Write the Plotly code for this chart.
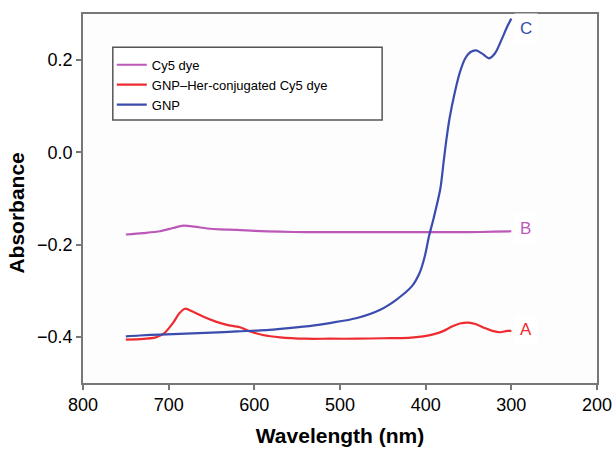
import plotly.graph_objects as go

# ---- data ----
cy5_wl = [750, 730, 710, 695, 683, 670, 655, 640, 620, 600, 570, 540, 500, 450, 400, 350, 320, 300]
cy5_abs = [-0.178, -0.175, -0.171, -0.164, -0.159, -0.161, -0.165, -0.167, -0.168, -0.170,
           -0.172, -0.173, -0.173, -0.173, -0.173, -0.173, -0.172, -0.171]

her_wl = [750, 734, 715, 705, 695, 688, 681, 672, 660, 645, 632, 617, 605, 590, 570, 540,
          512, 480, 450, 420, 403, 390, 379, 370, 360, 350, 342, 332, 322, 313, 305, 300]
her_abs = [-0.406, -0.405, -0.401, -0.392, -0.370, -0.350, -0.339, -0.345, -0.356, -0.367,
           -0.374, -0.379, -0.388, -0.396, -0.401, -0.404, -0.404, -0.404, -0.403, -0.402,
           -0.399, -0.394, -0.387, -0.378, -0.371, -0.369, -0.372, -0.380, -0.387, -0.390,
           -0.387, -0.387]

gnp_wl = [750, 734, 710, 680, 650, 620, 593, 560, 530, 512, 480, 453, 434, 416, 407, 401,
          396, 391, 383, 379, 376, 372, 366, 360, 354, 348, 341, 334, 326, 319, 311, 305, 300]
gnp_abs = [-0.399, -0.397, -0.395, -0.393, -0.391, -0.388, -0.386, -0.381, -0.375, -0.370,
           -0.359, -0.341, -0.319, -0.290, -0.261, -0.225, -0.181, -0.145, -0.080, -0.020,
           0.025, 0.075, 0.130, 0.174, 0.203, 0.217, 0.221, 0.214, 0.204, 0.215, 0.246,
           0.272, 0.290]

series_names = ["Cy5 dye", "GNP\u2013Her-conjugated Cy5 dye", "GNP"]
series_labels = ["B", "A", "C"]
label_yshift = [3, 1, -10]
colors = ["#bb58b8", "#ee2b30", "#3a4cae"]

x_ticks = [800, 700, 600, 500, 400, 300, 200]
y_ticks = [-0.4, -0.2, 0.0, 0.2]

FONT = "Arial, Liberation Sans, sans-serif"

fig = go.Figure()
series = [(cy5_wl, cy5_abs), (her_wl, her_abs), (gnp_wl, gnp_abs)]
for (wl, ab), name, col in zip(series, series_names, colors):
    fig.add_trace(go.Scatter(x=wl, y=ab, mode="lines", name=name,
                             line=dict(color=col, width=2.2, shape="spline", smoothing=0.8)))

# end labels A/B/C
for (wl, ab), lab, col, ys in zip(series, series_labels, colors, label_yshift):
    fig.add_annotation(x=wl[-1], y=ab[-1], text=lab, xref="x", yref="y",
                       xanchor="left", yanchor="middle", xshift=3, yshift=ys,
                       showarrow=False, bgcolor="white", borderpad=5,
                       font=dict(family=FONT, size=17, color=col))

# legend box
fig.add_shape(type="rect", xref="paper", yref="paper", x0=0.058, x1=0.582, y0=0.713, y1=0.910,
              line=dict(color="#555555", width=1.5), fillcolor="white", layer="above")

# y title
fig.add_annotation(text="<b>Absorbance</b>", xref="paper", yref="paper", x=-0.129, y=0.461,
                   textangle=-90, showarrow=False, xanchor="center", yanchor="middle",
                   font=dict(family=FONT, size=21, color="black"))

fig.update_layout(
    width=613, height=449, autosize=False,
    margin=dict(l=83, r=16, t=14, b=66, autoexpand=False),
    paper_bgcolor="white", plot_bgcolor="#fdfdfd",
    font=dict(family=FONT, size=18, color="black"),
    showlegend=True,
    legend=dict(x=0.056, y=0.903, xanchor="left", yanchor="top", bgcolor="rgba(0,0,0,0)",
                borderwidth=0, font=dict(family=FONT, size=13, color="black"),
                tracegroupgap=0, itemwidth=30),
    xaxis=dict(range=[800, 200], tickvals=x_ticks, ticks="outside", ticklen=5, tickwidth=1.5,
               tickcolor="#777777", showline=True, linecolor="#777777", linewidth=1.5,
               mirror=True, showgrid=False, zeroline=False, automargin=False,
               tickfont=dict(family=FONT, size=18, color="black"),
               title=dict(text="<b>Wavelength (nm)</b>", font=dict(family=FONT, size=21),
                          standoff=14)),
    yaxis=dict(range=[-0.5, 0.3], tickvals=y_ticks, tickformat=".1f", ticks="outside",
               ticklen=5, tickwidth=1.5, tickcolor="#777777", showline=True,
               linecolor="#777777", linewidth=1.5, mirror=True, showgrid=False,
               zeroline=False, automargin=False,
               tickfont=dict(family=FONT, size=18, color="black")),
)

fig.write_html("out.html", config={"displayModeBar": False},
               post_script="document.body.style.margin='0';document.body.style.padding='0';")
